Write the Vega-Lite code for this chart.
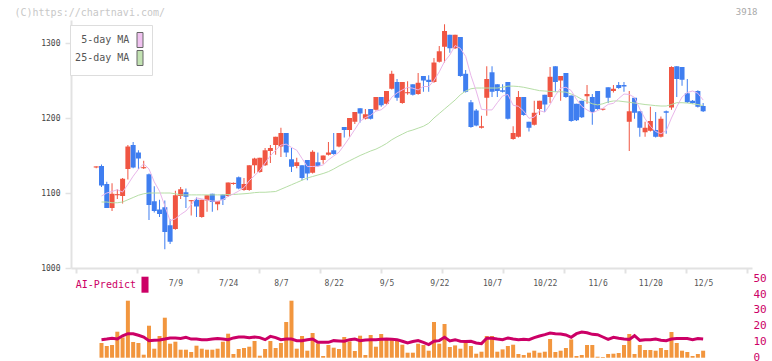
{
"$schema":"https://vega.github.io/schema/vega-lite/v6.json",
"width":681,"height":338,
"autosize":{"type":"none"},
"padding":{"left":71,"top":20,"right":20,"bottom":3},
"background":"white",
"config":{"view":{"stroke":null},"font":"DejaVu Sans Mono","axis":{"grid":false,"labelFont":"DejaVu Sans Mono","titleFont":"DejaVu Sans Mono"},"legend":{"labelFont":"DejaVu Sans Mono"}},
"data":{"values":[
{"i":0,"o":1134,"h":1135.5,"l":1133,"c":1135.5},
{"i":1,"o":1136,"h":1138,"l":1108,"c":1110,"v":14.7,"a":11.1,"m5":1096,"m25":1088},
{"i":2,"o":1112,"h":1115,"l":1080,"c":1080,"v":11.7,"a":11.5,"m5":1100,"m25":1088},
{"i":3,"o":1080,"h":1113,"l":1076,"c":1099,"v":12.7,"a":12.0,"m5":1102,"m25":1087},
{"i":4,"o":1097,"h":1105,"l":1092,"c":1098.5,"v":26,"a":11.5,"m5":1104.4,"m25":1087},
{"i":5,"o":1096,"h":1120,"l":1086,"c":1119,"v":20.3,"a":13.6,"m5":1101.2,"m25":1088},
{"i":6,"o":1132,"h":1164,"l":1118,"c":1162,"v":57,"a":14.9,"m5":1111.6,"m25":1091},
{"i":7,"o":1164,"h":1168,"l":1133,"c":1134,"v":15.7,"a":14.9,"m5":1122.4,"m25":1094},
{"i":8,"o":1154,"h":1157,"l":1132,"c":1146,"v":14.7,"a":13.9,"m5":1131.8,"m25":1097},
{"i":9,"o":1133,"h":1143,"l":1132,"c":1134.5,"v":3,"a":12.8,"m5":1139,"m25":1099},
{"i":10,"o":1125,"h":1126,"l":1064,"c":1084,"v":32,"a":10.5,"m5":1132,"m25":1100},
{"i":11,"o":1089,"h":1109,"l":1074,"c":1076,"v":9,"a":10.7,"m5":1114.8,"m25":1100},
{"i":12,"o":1078,"h":1091,"l":1068,"c":1072,"v":21.7,"a":10.9,"m5":1102.4,"m25":1100},
{"i":13,"o":1081,"h":1090,"l":1025,"c":1048,"v":40,"a":11.5,"m5":1082.8,"m25":1100},
{"i":14,"o":1057,"h":1065,"l":1032,"c":1035,"v":14,"a":12.2,"m5":1063,"m25":1100},
{"i":15,"o":1052,"h":1103,"l":1051,"c":1097,"v":16,"a":12.2,"m5":1065.6,"m25":1099},
{"i":16,"o":1096,"h":1108,"l":1092,"c":1105,"v":8,"a":11.8,"m5":1071.4,"m25":1097.5},
{"i":17,"o":1101,"h":1106,"l":1080,"c":1095,"v":8,"a":12.6,"m5":1076,"m25":1097.5},
{"i":18,"o":1089,"h":1090.5,"l":1070,"c":1090.5,"v":5.7,"a":11.5,"m5":1084.2,"m25":1097.5},
{"i":19,"o":1091,"h":1094,"l":1068,"c":1082,"v":12,"a":11.5,"m5":1093.4,"m25":1097.5},
{"i":20,"o":1068,"h":1091,"l":1067,"c":1091,"v":9,"a":11.1,"m5":1092.2,"m25":1097.5},
{"i":21,"o":1090,"h":1097,"l":1075,"c":1097,"v":8,"a":11.1,"m5":1090.6,"m25":1097.5},
{"i":22,"o":1099,"h":1099,"l":1075,"c":1088,"v":8,"a":11.5,"m5":1089.2,"m25":1097.5},
{"i":23,"o":1085,"h":1089,"l":1077,"c":1089,"v":9,"a":11.8,"m5":1089.2,"m25":1097.5},
{"i":24,"o":1098,"h":1098,"l":1084,"c":1091,"v":16,"a":11.5,"m5":1091.2,"m25":1097.5},
{"i":25,"o":1096,"h":1114,"l":1095,"c":1114,"v":24,"a":11.1,"m5":1095.6,"m25":1098},
{"i":26,"o":1112,"h":1114,"l":1111,"c":1113.5,"v":3.7,"a":12.2,"m5":1098.8,"m25":1098},
{"i":27,"o":1121,"h":1122,"l":1105,"c":1106,"v":8.7,"a":12.8,"m5":1102.6,"m25":1098.5},
{"i":28,"o":1104,"h":1120,"l":1103,"c":1112,"v":9.7,"a":12.8,"m5":1107.2,"m25":1099},
{"i":29,"o":1104,"h":1137,"l":1103,"c":1137,"v":11,"a":12.4,"m5":1116.4,"m25":1099.6},
{"i":30,"o":1137,"h":1147,"l":1126,"c":1146,"v":16.7,"a":12.8,"m5":1123.2,"m25":1100.5},
{"i":31,"o":1128,"h":1147,"l":1127,"c":1147,"v":2,"a":12.4,"m5":1130,"m25":1101},
{"i":32,"o":1137,"h":1160,"l":1136,"c":1157,"v":8.7,"a":11.1,"m5":1140,"m25":1101},
{"i":33,"o":1156,"h":1164,"l":1140,"c":1160,"v":16.7,"a":13.2,"m5":1149.6,"m25":1101.5},
{"i":34,"o":1164,"h":1175,"l":1151,"c":1175,"v":9.7,"a":12.4,"m5":1157.2,"m25":1102},
{"i":35,"o":1162,"h":1187,"l":1148,"c":1180,"v":14.7,"a":11.1,"m5":1163.8,"m25":1105},
{"i":36,"o":1180,"h":1180,"l":1148,"c":1154,"v":35.7,"a":11.5,"m5":1165.2,"m25":1108},
{"i":37,"o":1145,"h":1160,"l":1128,"c":1135,"v":57,"a":11.5,"m5":1160.8,"m25":1111},
{"i":38,"o":1136,"h":1147,"l":1133,"c":1141,"v":9,"a":10.5,"m5":1157,"m25":1114},
{"i":39,"o":1137,"h":1137,"l":1117,"c":1120,"v":21.7,"a":10.5,"m5":1146,"m25":1117},
{"i":40,"o":1144,"h":1144,"l":1117,"c":1126,"v":7,"a":11.1,"m5":1135.2,"m25":1120},
{"i":41,"o":1127,"h":1157,"l":1126,"c":1155,"v":24.7,"a":11.5,"m5":1135.4,"m25":1122},
{"i":42,"o":1141,"h":1154,"l":1135,"c":1136,"v":14.3,"a":9.4,"m5":1135.6,"m25":1124},
{"i":43,"o":1144,"h":1150,"l":1139,"c":1150,"v":1.7,"a":9.4,"m5":1137.4,"m25":1126},
{"i":44,"o":1151,"h":1168,"l":1150,"c":1154,"v":12.7,"a":9.4,"m5":1144.2,"m25":1128.5},
{"i":45,"o":1157,"h":1180,"l":1151,"c":1152,"v":10,"a":10.5,"m5":1149.4,"m25":1132},
{"i":46,"o":1162,"h":1180,"l":1161,"c":1180,"v":8.7,"a":10.3,"m5":1154.4,"m25":1136},
{"i":47,"o":1188,"h":1188,"l":1174,"c":1184,"v":20.7,"a":10.1,"m5":1164,"m25":1139.5},
{"i":48,"o":1184,"h":1200,"l":1175,"c":1200,"v":16.3,"a":11.1,"m5":1174,"m25":1143},
{"i":49,"o":1195,"h":1208,"l":1192,"c":1208,"v":6.7,"a":11.5,"m5":1184.8,"m25":1146.5},
{"i":50,"o":1213,"h":1213,"l":1194,"c":1206,"v":22,"a":10.5,"m5":1195.6,"m25":1150},
{"i":51,"o":1199,"h":1212,"l":1198,"c":1205,"v":2.7,"a":10.9,"m5":1200.6,"m25":1153},
{"i":52,"o":1212,"h":1212,"l":1198,"c":1199,"v":22.7,"a":11.1,"m5":1203.6,"m25":1156},
{"i":53,"o":1211,"h":1228,"l":1210,"c":1228,"v":11,"a":11.1,"m5":1209.2,"m25":1158.5},
{"i":54,"o":1228,"h":1228,"l":1215,"c":1217,"v":23.7,"a":11.3,"m5":1211,"m25":1162},
{"i":55,"o":1219,"h":1236,"l":1218,"c":1236,"v":17.7,"a":11.5,"m5":1217,"m25":1166},
{"i":56,"o":1239,"h":1263,"l":1238,"c":1259,"v":18.3,"a":11.3,"m5":1227.8,"m25":1171},
{"i":57,"o":1248,"h":1252,"l":1223,"c":1227,"v":17.7,"a":11.1,"m5":1233.4,"m25":1175},
{"i":58,"o":1220,"h":1248,"l":1219,"c":1248,"v":13,"a":10.1,"m5":1237.4,"m25":1178.5},
{"i":59,"o":1233,"h":1249,"l":1231,"c":1234.5,"v":5,"a":9.0,"m5":1240.8,"m25":1182},
{"i":60,"o":1245,"h":1245,"l":1230,"c":1231,"v":5,"a":9.9,"m5":1239.8,"m25":1184},
{"i":61,"o":1232,"h":1260,"l":1231,"c":1247,"v":14,"a":10.5,"m5":1237.4,"m25":1186.5},
{"i":62,"o":1256,"h":1256,"l":1235,"c":1250,"v":12.7,"a":9.4,"m5":1242,"m25":1189},
{"i":63,"o":1251,"h":1257,"l":1235,"c":1248,"v":7,"a":8.0,"m5":1242,"m25":1193},
{"i":64,"o":1248,"h":1280,"l":1247,"c":1274,"v":35.7,"a":10.1,"m5":1250,"m25":1200},
{"i":65,"o":1275,"h":1296,"l":1274,"c":1289,"v":14,"a":10.5,"m5":1261.6,"m25":1206},
{"i":66,"o":1295,"h":1325,"l":1274,"c":1316,"v":33.7,"a":12.6,"m5":1275.4,"m25":1212},
{"i":67,"o":1311,"h":1311,"l":1287,"c":1293,"v":10.7,"a":10.3,"m5":1284,"m25":1218},
{"i":68,"o":1293,"h":1311,"l":1292,"c":1311,"v":12.3,"a":11.1,"m5":1296.6,"m25":1224},
{"i":69,"o":1308,"h":1308,"l":1255,"c":1256,"v":9,"a":10.1,"m5":1293,"m25":1231},
{"i":70,"o":1259,"h":1264,"l":1234,"c":1235,"v":16.3,"a":9.9,"m5":1282.2,"m25":1236},
{"i":71,"o":1221,"h":1224,"l":1187,"c":1188,"v":11.7,"a":10.1,"m5":1256.6,"m25":1239},
{"i":72,"o":1210,"h":1212,"l":1189,"c":1190,"v":4,"a":9.0,"m5":1236,"m25":1240},
{"i":73,"o":1187,"h":1203,"l":1186,"c":1189,"v":6,"a":8.6,"m5":1211.6,"m25":1240},
{"i":74,"o":1227,"h":1269,"l":1203,"c":1252,"v":21.7,"a":12.0,"m5":1210.8,"m25":1240},
{"i":75,"o":1261,"h":1269,"l":1228,"c":1235,"v":21.7,"a":12.0,"m5":1210.8,"m25":1240},
{"i":76,"o":1245,"h":1245,"l":1228,"c":1236,"v":6,"a":11.5,"m5":1220.4,"m25":1240},
{"i":77,"o":1237,"h":1245,"l":1234,"c":1235,"v":8.3,"a":11.1,"m5":1229.4,"m25":1241},
{"i":78,"o":1248,"h":1248,"l":1198,"c":1199,"v":11.7,"a":12.2,"m5":1231.4,"m25":1242.5},
{"i":79,"o":1172,"h":1189,"l":1171,"c":1180,"v":13,"a":11.5,"m5":1217,"m25":1242.5},
{"i":80,"o":1175,"h":1236,"l":1174,"c":1228,"v":3.7,"a":11.1,"m5":1215.6,"m25":1242},
{"i":81,"o":1228,"h":1228,"l":1203,"c":1204,"v":2.7,"a":11.3,"m5":1209.2,"m25":1241},
{"i":82,"o":1195,"h":1195,"l":1182,"c":1187,"v":5,"a":11.1,"m5":1199.6,"m25":1239.5},
{"i":83,"o":1191,"h":1223,"l":1190,"c":1207,"v":7,"a":12.4,"m5":1201.2,"m25":1238},
{"i":84,"o":1212,"h":1223,"l":1204,"c":1223,"v":5,"a":13.4,"m5":1209.8,"m25":1236.5},
{"i":85,"o":1231,"h":1231,"l":1208,"c":1218,"v":6,"a":14.3,"m5":1207.8,"m25":1236},
{"i":86,"o":1228,"h":1268,"l":1220,"c":1255,"v":18.7,"a":15.3,"m5":1218,"m25":1235.5},
{"i":87,"o":1269,"h":1269,"l":1235,"c":1248,"v":5.7,"a":14.9,"m5":1230.2,"m25":1235},
{"i":88,"o":1250,"h":1256,"l":1223,"c":1256,"v":7,"a":14.7,"m5":1240,"m25":1235},
{"i":89,"o":1260,"h":1260,"l":1227,"c":1228,"v":9.7,"a":14.1,"m5":1241,"m25":1234.5},
{"i":90,"o":1230,"h":1230,"l":1195,"c":1196,"v":18.3,"a":12.6,"m5":1236.6,"m25":1232},
{"i":91,"o":1219,"h":1219,"l":1196,"c":1197,"v":1.7,"a":14.9,"m5":1225,"m25":1229},
{"i":92,"o":1223,"h":1223,"l":1200,"c":1201,"v":2.7,"a":16.0,"m5":1215.6,"m25":1225},
{"i":93,"o":1229,"h":1244,"l":1219,"c":1232,"v":12.7,"a":15.5,"m5":1210.8,"m25":1222},
{"i":94,"o":1228,"h":1232,"l":1191,"c":1208,"v":12.7,"a":14.5,"m5":1206.8,"m25":1219},
{"i":95,"o":1236,"h":1236,"l":1211,"c":1212,"v":1,"a":14.3,"m5":1210,"m25":1217.5},
{"i":96,"o":1211,"h":1212.5,"l":1210,"c":1212.5,"v":0.7,"a":12.8,"m5":1213,"m25":1219},
{"i":97,"o":1241,"h":1241,"l":1220,"c":1227,"v":3.7,"a":11.3,"m5":1218.2,"m25":1221.5},
{"i":98,"o":1236,"h":1244,"l":1234,"c":1239,"v":4,"a":12.6,"m5":1219.6,"m25":1222.7},
{"i":99,"o":1244,"h":1248,"l":1239,"c":1240,"v":4.7,"a":12.0,"m5":1226,"m25":1222.7},
{"i":100,"o":1244,"h":1248,"l":1235,"c":1242,"v":12.7,"a":11.5,"m5":1232,"m25":1221.8},
{"i":101,"o":1195,"h":1236,"l":1156,"c":1209,"v":23.7,"a":11.3,"m5":1231.4,"m25":1221},
{"i":102,"o":1227,"h":1227,"l":1199,"c":1207,"v":3.7,"a":13.6,"m5":1227.4,"m25":1220},
{"i":103,"o":1209,"h":1209,"l":1175,"c":1187,"v":12.7,"a":10.7,"m5":1212,"m25":1219},
{"i":104,"o":1181,"h":1195,"l":1175,"c":1187,"v":7.7,"a":11.1,"m5":1199,"m25":1218},
{"i":105,"o":1183,"h":1215,"l":1182,"c":1196,"v":7.7,"a":11.1,"m5":1189,"m25":1217.3},
{"i":106,"o":1184,"h":1208,"l":1174,"c":1175,"v":7,"a":11.5,"m5":1182,"m25":1216.5},
{"i":107,"o":1175,"h":1202,"l":1174,"c":1199,"v":9.7,"a":10.7,"m5":1179,"m25":1216},
{"i":108,"o":1209,"h":1210,"l":1179,"c":1207,"v":7.7,"a":10.5,"m5":1183,"m25":1216},
{"i":109,"o":1214,"h":1269,"l":1211,"c":1268,"v":25.7,"a":11.5,"m5":1200,"m25":1218},
{"i":110,"o":1269,"h":1269,"l":1228,"c":1252,"v":14.7,"a":11.8,"m5":1215,"m25":1220.4},
{"i":111,"o":1268,"h":1268,"l":1243,"c":1251,"v":7,"a":11.8,"m5":1228,"m25":1220.4},
{"i":112,"o":1233,"h":1252,"l":1220,"c":1221,"v":5.7,"a":11.8,"m5":1234,"m25":1220},
{"i":113,"o":1223,"h":1224,"l":1219,"c":1220,"v":1.7,"a":11.1,"m5":1236,"m25":1219},
{"i":114,"o":1236,"h":1237,"l":1214,"c":1215,"v":3.7,"a":11.8,"m5":1233,"m25":1218},
{"i":115,"o":1216,"h":1220,"l":1208,"c":1209,"v":7,"a":11.5,"m5":1224,"m25":1216.5}
]},
"resolve":{"scale":{"y":"independent","fill":"independent"},"axis":{"x":"independent"}},
"layer":[
{"layer":[
 {"mark":{"type":"rule","strokeWidth":1},
  "encoding":{
   "x":{"field":"i","type":"quantitative","scale":{"domain":[-3.83,123.31],"nice":false,"zero":false},
        "axis":{"orient":"bottom","offset":-90,"values":[-3.83,7.731,19.288,30.846,42.404,53.962,65.519,77.077,88.635,100.192,111.75,123.31],"labels":false,"ticks":true,"tickSize":5,"tickWidth":2,"tickColor":"#e2e2e2","domain":true,"domainColor":"#e2e2e2","domainWidth":2,"title":null,"grid":false}},
   "y":{"field":"l","type":"quantitative","scale":{"domain":[1000,1330.7],"range":[248,0],"nice":false,"zero":false},
        "axis":{"values":[1000,1100,1200,1300],"format":"d","tickSize":6,"tickWidth":1.5,"tickColor":"#e2e2e2","domainColor":"#e2e2e2","domainWidth":2,"labelPadding":5,"labelFontSize":8,"labelColor":"#444","labelFlush":false,"title":null,"grid":false}},
   "y2":{"field":"h"},
   "color":{"condition":{"test":"datum.c >= datum.o","value":"#f05542"},"value":"#3f7ef0"}}},
 {"mark":{"type":"bar","size":5},
  "encoding":{
   "x":{"field":"i","type":"quantitative","scale":{"domain":[-3.83,123.31],"nice":false,"zero":false}},
   "y":{"field":"o","type":"quantitative","scale":{"domain":[1000,1330.7],"range":[248,0],"nice":false,"zero":false}},
   "y2":{"field":"c"},
   "color":{"condition":{"test":"datum.c >= datum.o","value":"#f05542"},"value":"#3f7ef0"}}},
 {"mark":{"type":"line","strokeWidth":1,"interpolate":"linear"},
  "encoding":{
   "x":{"field":"i","type":"quantitative","scale":{"domain":[-3.83,123.31],"nice":false,"zero":false}},
   "y":{"field":"m25","type":"quantitative","scale":{"domain":[1000,1330.7],"range":[248,0],"nice":false,"zero":false}},
   "color":{"datum":"25-day MA","scale":{"domain":["5-day MA","25-day MA"],"range":["#e9b6ea","#b6dea6"]},"legend":null}}},
 {"mark":{"type":"line","strokeWidth":1,"interpolate":"linear"},
  "encoding":{
   "x":{"field":"i","type":"quantitative","scale":{"domain":[-3.83,123.31],"nice":false,"zero":false}},
   "y":{"field":"m5","type":"quantitative","scale":{"domain":[1000,1330.7],"range":[248,0],"nice":false,"zero":false}},
   "color":{"datum":"5-day MA","legend":null}}},
 {"mark":{"type":"point","shape":"square","filled":true,"opacity":0},
  "encoding":{
   "x":{"field":"i","type":"quantitative","scale":{"domain":[-3.83,123.31],"nice":false,"zero":false}},
   "y":{"field":"m5","type":"quantitative","scale":{"domain":[1000,1330.7],"range":[248,0],"nice":false,"zero":false}},
   "fill":{"datum":"5-day MA","scale":{"domain":["5-day MA","25-day MA"],"range":["#f0c2f0","#c2e2b2"]},
     "legend":{"orient":"none","legendX":-1,"legendY":5,"title":null,"symbolType":"M-0.4,-1H0.4V1H-0.4Z","symbolSize":225,"symbolStrokeColor":"#666666","symbolStrokeWidth":1,"symbolOpacity":1,"labelAlign":"right","labelOffset":-18.7,"symbolOffset":55,"padding":7,"rowPadding":-2.5,"strokeColor":"#dddddd","fillColor":"white","labelFontSize":10,"labelColor":"#555555"}}}},
 {"mark":{"type":"point","shape":"square","filled":true,"opacity":0},
  "encoding":{
   "x":{"field":"i","type":"quantitative","scale":{"domain":[-3.83,123.31],"nice":false,"zero":false}},
   "y":{"field":"m25","type":"quantitative","scale":{"domain":[1000,1330.7],"range":[248,0],"nice":false,"zero":false}},
   "fill":{"datum":"25-day MA"}}}
]},
{"mark":{"type":"bar","size":4,"color":"#f2963e"},
 "encoding":{
  "x":{"field":"i","type":"quantitative","scale":{"domain":[-3.83,123.31],"nice":false,"zero":false},
       "axis":{"orient":"bottom","offset":-90,"values":[15,25,35,45,55,65,75,85,95,105,115],
        "labelExpr":"datum.value==15?'7/9':datum.value==25?'7/24':datum.value==35?'8/7':datum.value==45?'8/22':datum.value==55?'9/5':datum.value==65?'9/22':datum.value==75?'10/7':datum.value==85?'10/22':datum.value==95?'11/6':datum.value==105?'11/20':'12/5'",
        "ticks":false,"tickSize":0,"domain":false,"labelPadding":11,"labelFontSize":8,"labelColor":"#555555","labelFlush":false,"labelOverlap":false,"title":null,"grid":false}},
  "y":{"field":"v","type":"quantitative","scale":{"domain":[0,79.7],"range":[337.7,258],"nice":false,"zero":true},"axis":null}}},
{"layer":[
 {"mark":{"type":"line","strokeWidth":3,"color":"#cc0066"},
  "encoding":{
   "x":{"field":"i","type":"quantitative","scale":{"domain":[-3.83,123.31],"nice":false,"zero":false},
        "axis":{"orient":"top","labels":false,"ticks":false,"domain":false,"grid":false,"title":"(C)https://chartnavi.com/","titleX":-57,"titleY":-8,"titleAlign":"left","titleAnchor":"start","titleBaseline":"middle","titleFontSize":10,"titleFontWeight":"normal","titleColor":"#c8c8c8"}},
   "y":{"field":"a","type":"quantitative","scale":{"domain":[0,50],"range":[337.2,258.3],"nice":false,"zero":false},
        "axis":{"orient":"right","values":[0,10,20,30,40,50],"ticks":false,"domain":false,"grid":false,"labelPadding":1,"labelColor":"#cc0066","labelFontSize":11,"labelFlush":false,"labelOverlap":false,"title":"3918","titleAngle":0,"titleX":5,"titleY":-9,"titleAlign":"right","titleBaseline":"middle","titleColor":"#aaaaaa","titleFontSize":9,"titleFontWeight":"normal",
        "encode":{"labels":{"update":{"dy":{"signal":"datum.value == 0 ? -2.5 : 0"}}}}}}}},
 {"mark":{"type":"point","shape":"square","filled":true,"opacity":0},
  "encoding":{
   "x":{"field":"i","type":"quantitative","scale":{"domain":[-3.83,123.31],"nice":false,"zero":false}},
   "y":{"field":"a","type":"quantitative","scale":{"domain":[0,50],"range":[337.2,258.3],"nice":false,"zero":false}},
   "fill":{"datum":"AI-Predict","scale":{"range":["#cc0066"]},
     "legend":{"orient":"none","legendX":0,"legendY":256.7,"title":null,"symbolType":"M-0.44,-1H0.44V1H-0.44Z","symbolSize":256,"symbolStrokeWidth":0,"symbolOpacity":1,"labelAlign":"right","labelOffset":-17,"symbolOffset":66,"padding":0,"labelColor":"#cc0066","labelFontSize":10}}}}
]}
]
}
